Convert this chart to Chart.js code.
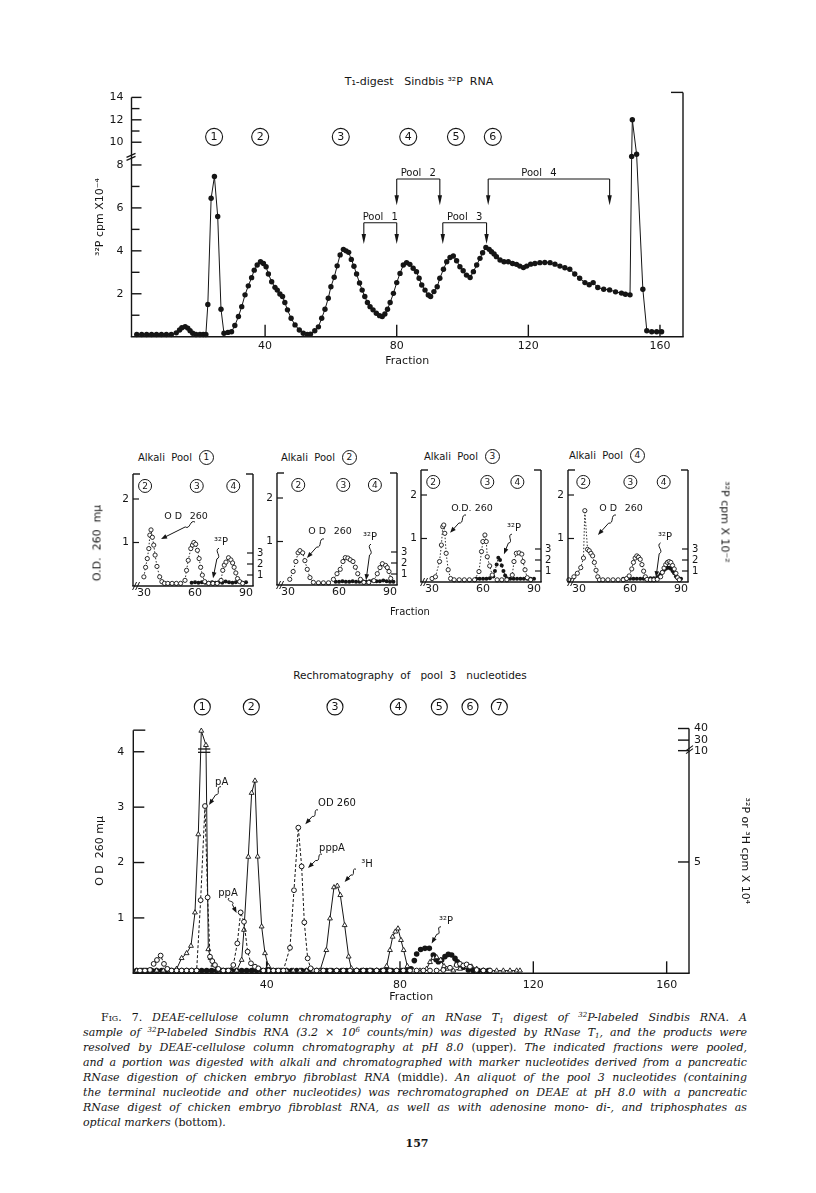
<!DOCTYPE html>
<html><head><meta charset="utf-8">
<script src="https://cdn.jsdelivr.net/npm/chart.js@4.4.0/dist/chart.umd.min.js"></script>
<style>
html,body{margin:0;padding:0;background:#fff;}
body{width:816px;height:1193px;position:relative;overflow:hidden;font-family:"DejaVu Sans",sans-serif;color:#151515;}
canvas{position:absolute;}
.t{position:absolute;white-space:nowrap;font-size:11px;}
.c{transform:translate(-50%,-50%);}
.circ{display:inline-block;width:13px;height:13px;border:1px solid #151515;border-radius:50%;text-align:center;line-height:13px;font-size:9px;margin-left:7px;vertical-align:middle;}
#cap{position:absolute;left:83px;top:1010px;width:664px;font-family:"DejaVu Serif",serif;font-style:italic;font-size:11px;line-height:15px;color:#151515;}
#cap .ln{height:15px;white-space:nowrap;text-align:justify;text-align-last:justify;}
#cap .last{text-align:left;text-align-last:left;}
#cap sup{font-size:7px;vertical-align:4px;line-height:0;}
#cap sub{font-size:7px;vertical-align:-2px;line-height:0;}
#cap .up{font-style:normal;}
</style></head><body>

<div class="t c" style="left:419px;top:81px;">T₁-digest&nbsp;&nbsp; Sindbis ³²P&nbsp; RNA</div>
<canvas id="cTop" width="816" height="312" style="left:0;top:60px;"></canvas>

<div class="t" style="left:138px;top:450px;font-size:10px;">Alkali&nbsp; Pool<span class="circ">1</span></div>
<div class="t" style="left:281px;top:450px;font-size:10px;">Alkali&nbsp; Pool<span class="circ">2</span></div>
<div class="t" style="left:424px;top:449px;font-size:10px;">Alkali&nbsp; Pool<span class="circ">3</span></div>
<div class="t" style="left:569px;top:448px;font-size:10px;">Alkali&nbsp; Pool<span class="circ">4</span></div>
<canvas id="cP1" width="190" height="156"></canvas>
<canvas id="cP2" width="190" height="156"></canvas>
<canvas id="cP3" width="190" height="156"></canvas>
<canvas id="cP4" width="190" height="156"></canvas>
<div class="t" style="left:97px;top:543px;transform:translate(-50%,-50%) rotate(-90deg);">O.D.&nbsp; 260&nbsp; mμ</div>
<div class="t" style="left:725px;top:522px;transform:translate(-50%,-50%) rotate(90deg);">³²P cpm X 10⁻²</div>
<div class="t c" style="left:410px;top:611px;font-size:10px;">Fraction</div>

<div class="t c" style="left:410px;top:675px;font-size:10.5px;">Rechromatography&nbsp; of&nbsp;&nbsp; pool&nbsp; 3&nbsp;&nbsp; nucleotides</div>
<canvas id="cBot" width="816" height="320" style="left:0;top:690px;"></canvas>

<div id="cap">
<div class="ln" style="text-indent:18px;"><span class="up">F<span style="font-variant:small-caps;">ig</span>. 7.</span> DEAE-cellulose column chromatography of an RNase T<sub>1</sub> digest of <sup>32</sup>P-labeled Sindbis RNA. A</div>
<div class="ln">sample of <sup>32</sup>P-labeled Sindbis RNA (3.2 × 10<sup>6</sup> counts/min) was digested by RNase T<sub>1</sub>, and the products were</div>
<div class="ln">resolved by DEAE-cellulose column chromatography at pH 8.0 <span class="up">(upper)</span>. The indicated fractions were pooled,</div>
<div class="ln">and a portion was digested with alkali and chromatographed with marker nucleotides derived from a pancreatic</div>
<div class="ln">RNase digestion of chicken embryo fibroblast RNA <span class="up">(middle)</span>. An aliquot of the pool 3 nucleotides (containing</div>
<div class="ln">the terminal nucleotide and other nucleotides) was rechromatographed on DEAE at pH 8.0 with a pancreatic</div>
<div class="ln">RNase digest of chicken embryo fibroblast RNA, as well as with adenosine mono- di-, and triphosphates as</div>
<div class="ln last">optical markers <span class="up">(bottom)</span>.</div>
</div>
<div class="t c" style="left:417px;top:1143px;font-family:'DejaVu Serif',serif;font-weight:bold;font-size:11px;">157</div>

<script>
// ---------------- DATA ----------------
// Top: T1 digest, 32P cpm x 10^-4 per fraction
const topFraction = [1,2.5,4,5.5,7,8.5,10,11.5,13,14,
 14.7,15.7,16.5,17.2,18,19,20.2,21.2,22,22.6,
 23.6,24.6,25.6,26.6,27.5,28.7,29.8,30.8,31.9,32.9,
 33.9,34.9,35.9,36.7,37.6,38.6,39.5,40.3,41,42,
 43,43.7,44.5,45.3,46,46.8,47.9,49.1,50.4,51.6,
 52.8,53.8,55.1,56.2,57.2,58.2,59.2,60,61,61.9,
 62.8,63.8,64.6,65.4,66.2,67,67.8,68.7,69.5,70.3,
 71.1,71.9,72.8,73.8,74.8,75.6,76.4,77.2,78,79,
 80,81,82,83,84,85,86,86.8,87.6,88.6,
 89.6,90.3,91.3,92.3,93.1,94.2,95.2,96.2,97.2,98.2,
 99.2,100.2,101.2,102.3,103.3,104.3,105.3,106.1,107.1,108.1,
 108.8,109.6,110.3,111.4,112.6,113.9,115.2,116.4,117.4,118.5,
 119.5,120.7,122,123.5,125,126.6,128.1,129.6,131.1,132.6,
 134.1,135.6,137.2,138.5,139.7,141.1,142.9,144.7,146.5,148.3,
 149.5,150.9,151.4,151.6,152.9,154.8,156,157.5,159,160.5];
const topCpm = [0.1,0.1,0.1,0.1,0.1,0.1,0.1,0.1,0.18,0.31,
 0.42,0.47,0.4,0.28,0.16,0.1,0.1,0.1,0.1,1.5,
 6.45,7.46,5.6,1.28,0.16,0.2,0.23,0.52,0.94,1.4,
 1.95,2.37,2.75,3.1,3.34,3.49,3.41,3.26,2.92,2.56,
 2.3,2.17,1.99,1.87,1.59,1.25,0.86,0.55,0.31,0.16,
 0.11,0.12,0.28,0.46,0.86,1.28,1.79,2.33,2.77,3.3,
 3.81,4.07,4.0,3.93,3.6,3.28,2.92,2.5,2.17,1.87,
 1.59,1.4,1.25,1.09,0.98,0.94,1.06,1.28,1.59,2.02,
 2.52,2.95,3.34,3.45,3.37,3.19,3.03,2.72,2.41,2.17,
 1.94,1.87,2.1,2.33,2.72,3.14,3.49,3.69,3.76,3.54,
 3.26,3.07,2.87,2.76,3.03,3.34,3.65,3.91,4.16,4.07,
 3.96,3.85,3.73,3.57,3.49,3.49,3.41,3.37,3.29,3.22,
 3.29,3.38,3.41,3.45,3.46,3.45,3.38,3.29,3.21,3.14,
 2.92,2.72,2.52,2.42,2.52,2.29,2.21,2.18,2.09,2.03,
 1.98,1.95,8.4,12,8.5,2.21,0.28,0.23,0.23,0.23];
const topXTickLabels = [40,80,120,160];
const topYTickLabels = [2,4,6,8,10,12,14];
const topYMinorTicks = [1,3,5,7,11,13];
const topPeakNames = ['1','2','3','4','5','6'];
const topPeakFractions = [24.5,38.5,63,83.5,98,109.2];
const poolNames = ['1','2','3','4'];
const poolStart = [70,80,94,107.8];
const poolEnd = [80,93.1,107.3,144.7];

// Middle: alkali digests of pools (OD 260 and 32P cpm x 10^-2)
const p1OdFraction = [29.9,30.9,31.9,32.8,33.4,34.1,34.9,35.7,36.5,37.6,39.2,40.5,42,44,46.5,49,51.5,54.1,55,56,57.5,58.5,59.3,60.4,61.4,62.4,63.3,64.3,65.7,68,70.5,73,75.3,76.3,77.2,78.2,79.7,81.1,82.1,83,84,85,86.3,88];
const p1Od = [0.21,0.43,0.63,0.86,1.17,1.29,1.12,0.94,0.71,0.45,0.21,0.1,0.06,0.06,0.06,0.06,0.06,0.13,0.36,0.59,0.86,0.94,1.0,0.96,0.82,0.63,0.43,0.25,0.1,0.06,0.06,0.06,0.13,0.36,0.48,0.55,0.65,0.6,0.53,0.43,0.3,0.17,0.1,0.06];
const p1PFraction = [58,60,62,64,66,68,70,72,74,76,78,80,82,84,86,88,90];
const p1P = [0.3,0.35,0.3,0.35,0.3,0.3,0.35,0.3,0.35,0.3,0.4,0.35,0.3,0.35,0.4,0.3,0.35];

const p2OdFraction = [31,33,34.6,35.9,37,38.6,39.9,41.3,42.9,44.9,47.9,50.8,53.8,56.7,58.8,60.7,62.3,63.7,65.2,66.6,68.2,69.6,71,72.6,74.6,77.5,80.5,82.5,84.1,85.5,87.4,88.4,89.4,90.4];
const p2Od = [0.13,0.31,0.54,0.74,0.79,0.74,0.56,0.36,0.17,0.06,0.05,0.05,0.05,0.13,0.26,0.36,0.54,0.63,0.62,0.58,0.54,0.41,0.26,0.13,0.06,0.06,0.1,0.26,0.4,0.49,0.45,0.4,0.31,0.15];
const p2PFraction = [58,60,62,64,66,68,70,72,74,76,78,80,82,84,86,88,90,92];
const p2P = [0.3,0.3,0.35,0.3,0.3,0.35,0.3,0.3,0.35,0.3,0.35,0.4,0.35,0.35,0.4,0.35,0.3,0.3];

const p3OdFraction = [30,32,34.4,35.5,36.3,36.9,37.5,38.3,39.5,40.9,43,46,49,52,55,57.6,59.1,59.9,61.1,61.9,62.5,63.9,65.4,68.3,71,74,77.2,78.2,79.6,81.2,82.8,83.5,84.7,86,88];
const p3Od = [0.08,0.12,0.47,0.85,1.27,1.31,1.12,0.66,0.28,0.08,0.05,0.05,0.05,0.05,0.05,0.24,0.7,0.93,1.08,0.93,0.58,0.37,0.16,0.05,0.05,0.05,0.16,0.47,0.66,0.67,0.64,0.47,0.28,0.1,0.05];
const p3PFraction = [56,58,60,62,64,66,67,68,69,70,71,72,73,74,76,78,80,82,84,86,88,90];
const p3P = [0.3,0.3,0.3,0.3,0.35,0.5,1.0,1.6,2.2,2.0,1.5,1.0,0.6,0.35,0.3,0.3,0.3,0.3,0.3,0.3,0.3,0.3];

const p4OdFraction = [24,27,29,31,32.6,33.4,35,36,37,38,39,40,41,42,44,47,50,53,56,58,59.5,61,62,63,64,65,66,67,68,69,70,72,74,76,78,79,80,81,82,83,84,85,86,87,88,89];
const p4Od = [0.05,0.12,0.2,0.33,0.55,1.64,0.75,0.72,0.66,0.6,0.45,0.27,0.12,0.05,0.05,0.05,0.05,0.05,0.05,0.08,0.14,0.3,0.45,0.55,0.6,0.57,0.52,0.4,0.25,0.12,0.06,0.05,0.05,0.06,0.12,0.22,0.32,0.4,0.45,0.47,0.45,0.38,0.3,0.2,0.1,0.05];
const p4PFraction = [56,58,60,62,64,66,68,70,72,74,76,77,78,79,80,81,82,83,84,85,86,87,88,90];
const p4P = [0.3,0.3,0.3,0.3,0.3,0.3,0.3,0.3,0.35,0.35,0.4,0.5,0.7,0.9,1.1,1.2,1.3,1.3,1.2,1.0,0.8,0.5,0.35,0.3];

const panelXTickLabels = [30,60,90];
const panelOdTickLabels = [1,2];
const panelPTickLabels = [1,2,3];
const panelPeakNames = ['2','3','4'];
const panelPeakFractions = [[30.6,61,82.5],[36,62.5,81.1],[30.7,62.5,80.2],[32.5,60.2,79.8]];

// Bottom: rechromatography of pool 3 (OD 260, 3H and 32P cpm x 10^4)
const botOdFraction = [2,3.5,5,6.1,7.1,8.2,9.2,10.2,11.5,13,
 14.5,16,17.5,19,20.2,21.5,22.3,23,23.7,24.5,
 25.5,27,28.5,30,31.2,32.2,33.2,34.3,35.3,36.5,
 37.5,39,40.5,42,43.5,45,47,48.2,49.5,50.5,
 51.3,52.3,53.2,55,57,59,61,63,65,67,
 69,71,73,75,77,79,81,83,85,87,
 89,91,93,95,97,98,99,100,101,103,
 105,107];
const botOd = [0.05,0.05,0.06,0.17,0.24,0.32,0.17,0.08,0.05,0.05,
 0.05,0.05,0.05,0.05,1.32,3.02,1.37,0.3,0.22,0.15,
 0.08,0.05,0.05,0.15,0.54,1.1,0.93,0.39,0.18,0.12,
 0.09,0.05,0.05,0.05,0.05,0.05,0.46,1.5,2.63,1.93,
 0.92,0.27,0.09,0.05,0.05,0.05,0.05,0.05,0.05,0.05,
 0.05,0.05,0.05,0.05,0.05,0.05,0.05,0.05,0.05,0.05,
 0.05,0.05,0.06,0.1,0.15,0.17,0.14,0.16,0.12,0.06,
 0.05,0.05];
const botHFraction = [1,3,5,7,9,11,13,14.5,16,17.3,
 18.5,19.5,20.4,21.8,22.5,23.2,24,25.5,27,29,
 31,32.5,33.2,34.5,35.5,36.5,37.3,38.5,39.5,40.5,
 42,44,46,48,50,52,54,56,57.9,59,
 60.2,61.2,62.1,63.4,64.6,65.4,67,69,71,73,
 75,76,77,77.8,78.6,79.4,80.3,81.1,82.2,84,
 86,88,89,90,91,92.2,93.2,94,96,98,
 100,101.5,103,105,107,109,111,113,115,116];
const botH = [0.12,0.12,0.12,0.12,0.12,0.12,0.2,0.68,0.9,1.23,
 2.73,6.24,38,20.5,1.08,0.68,0.38,0.15,0.12,0.12,
 0.12,0.6,1.95,5.23,8.1,8.65,5.24,2.1,0.9,0.32,
 0.12,0.12,0.12,0.12,0.12,0.12,0.12,0.12,1.04,2.46,
 3.86,3.93,3.51,2.16,0.75,0.22,0.12,0.12,0.12,0.12,
 0.12,0.32,1.04,1.64,1.87,2.01,1.49,1.04,0.32,0.12,
 0.12,0.2,0.5,0.69,0.72,0.6,0.32,0.2,0.12,0.2,
 0.3,0.3,0.2,0.12,0.12,0.12,0.12,0.12,0.12,0.12];
const botPFraction = [1,2.5,4,5.5,7,8.5,10,11.5,13,14.5,
 16,17.5,19,20.5,22,23.5,25,26.5,28,29.5,
 31,32.5,34,35.5,37,38.5,40,41.5,43,44.5,
 46,47.5,49,50.5,52,53.5,55,56.5,58,59.5,
 61,62.5,64,65.5,67,68.5,70,71.5,73,74.5,
 76,77.5,79,80.5,82,83.3,84.3,85,86.2,87.5,
 88.8,90,90.8,91.5,92.5,93.5,94.5,95.5,96.5,97.2,
 98,99,100.5,102,103.5,105,106.5];
const botP = [0.12,0.12,0.12,0.12,0.12,0.12,0.12,0.12,0.12,0.12,
 0.12,0.12,0.12,0.12,0.12,0.12,0.12,0.12,0.12,0.12,
 0.12,0.12,0.12,0.12,0.12,0.12,0.12,0.12,0.12,0.12,
 0.12,0.12,0.12,0.12,0.12,0.12,0.12,0.12,0.12,0.12,
 0.12,0.12,0.12,0.12,0.12,0.12,0.12,0.12,0.12,0.12,
 0.12,0.12,0.12,0.12,0.12,0.2,0.57,0.87,1.07,1.12,
 1.12,0.82,0.62,0.52,0.6,0.75,0.85,0.82,0.67,0.52,
 0.37,0.27,0.15,0.12,0.12,0.12,0.12];
const botXTickLabels = [40,80,120,160];
const botOdTickLabels = [1,2,3,4];
const botCpmTickLabels = [5,10,30,40];
const botPeakNames = ['1','2','3','4','5','6','7'];
const botPeakFractions = [20.7,35.4,60.5,79.5,91.8,101,109.8];

// ---------------- RENDER ----------------
const INK = '#151515';
const FF = "'DejaVu Sans', sans-serif";
Chart.defaults.font.family = FF;
Chart.defaults.color = INK;

// broken-axis transforms
function tTop(v){ return v <= 8.6 ? v : 9.06 + (v - 10) * 0.522; }
function tBot(r){ if (r <= 10) return r * 0.402; if (r <= 30) return 4.02 + (r - 10) * 0.0095; return 4.21 + (r - 30) * 0.021; }

function ln(ctx,x0,y0,x1,y1){ctx.beginPath();ctx.moveTo(x0,y0);ctx.lineTo(x1,y1);ctx.stroke();}
function arrowHead(ctx,x,y,ang,len,hw){
  const c=Math.cos(ang), s=Math.sin(ang);
  ctx.beginPath(); ctx.moveTo(x,y);
  ctx.lineTo(x-len*c+hw*s, y-len*s-hw*c);
  ctx.lineTo(x-len*c-hw*s, y-len*s+hw*c);
  ctx.closePath(); ctx.fill();
}
function squiggleArrow(ctx,x0,y0,x1,y1){
  const dx=x1-x0, dy=y1-y0, L=Math.hypot(dx,dy), ux=dx/L, uy=dy/L, nx=-uy, ny=ux;
  const s=Math.min(11, L*0.45);
  const mx=x0+ux*s, my=y0+uy*s;
  ctx.beginPath(); ctx.moveTo(x0,y0);
  ctx.bezierCurveTo(x0+ux*s*0.3+nx*5, y0+uy*s*0.3+ny*5, x0+ux*s*0.7-nx*5, y0+uy*s*0.7-ny*5, mx, my);
  ctx.lineTo(x1-ux*3,y1-uy*3); ctx.stroke();
  arrowHead(ctx,x1,y1,Math.atan2(dy,dx),6,2.3);
}
function circled(ctx,x,y,r,txt,size){
  ctx.beginPath(); ctx.arc(x,y,r,0,Math.PI*2); ctx.stroke();
  ctx.font = size+'px '+FF; ctx.textAlign='center'; ctx.textBaseline='middle';
  ctx.fillText(txt,x,y+0.5);
}
function baseScale(extra){
  return Object.assign({type:'linear',bounds:'data',grid:{display:false,drawTicks:false},border:{display:false},
    ticks:{autoSkip:false,maxRotation:0,minRotation:0,color:INK,font:{size:11}}}, extra);
}
const common = {responsive:false,animation:false,devicePixelRatio:1,events:[],
  plugins:{legend:{display:false},tooltip:{enabled:false}}};

// ---- Top chart ----
const topFrame = {id:'topFrame', afterDraw(chart){
  const {ctx, chartArea:a, scales:{x,y}} = chart;
  ctx.save(); ctx.strokeStyle=INK; ctx.fillStyle=INK; ctx.lineWidth=1.4;
  const yTop = y.getPixelForValue(tTop(14));
  ln(ctx,a.left,yTop,a.left,a.bottom);
  ln(ctx,a.left-0.7,a.bottom,a.right+0.7,a.bottom);
  ln(ctx,a.right,yTop-5,a.right,a.bottom);
  ln(ctx,a.right-12,yTop-5,a.right,yTop-5);
  topYTickLabels.forEach(v=>{const p=y.getPixelForValue(tTop(v)); ln(ctx,a.left,p,a.left+10,p);});
  topYMinorTicks.forEach(v=>{const p=y.getPixelForValue(tTop(v)); ln(ctx,a.left,p,a.left+8,p);});
  topXTickLabels.forEach(v=>{const p=x.getPixelForValue(v); ln(ctx,p,a.bottom,p,a.bottom-12);});
  // axis break
  const pb = y.getPixelForValue(8.4);
  ctx.lineWidth=1.2;
  ln(ctx,a.left-5,pb+1,a.left+4,pb-3); ln(ctx,a.left-5,pb+4,a.left+4,pb);
  // peak numbers
  ctx.lineWidth=1.1;
  topPeakFractions.forEach((f,i)=>circled(ctx,x.getPixelForValue(f),y.getPixelForValue(9.31),8.5,topPeakNames[i],11));
  // pools
  ctx.lineWidth=1.1;
  poolNames.forEach((nm,i)=>{
    const lvl = (i%2===0) ? {line:5.31, tip:4.32} : {line:7.35, tip:6.12};
    const x0=x.getPixelForValue(poolStart[i]), x1=x.getPixelForValue(poolEnd[i]);
    const yl=y.getPixelForValue(lvl.line), yt=y.getPixelForValue(lvl.tip);
    ln(ctx,x0,yl,x1,yl); ln(ctx,x0,yl,x0,yt-6); ln(ctx,x1,yl,x1,yt-6);
    arrowHead(ctx,x0,yt,Math.PI/2,10,2.2); arrowHead(ctx,x1,yt,Math.PI/2,10,2.2);
    ctx.font='10px '+FF; ctx.textAlign='center'; ctx.textBaseline='alphabetic';
    ctx.fillText('Pool\u2002 '+nm,(x0+x1)/2 - (i===3?10:0),yl-2.5);
  });
  ctx.restore();
}};
new Chart(document.getElementById('cTop'), {
  type:'line',
  data:{datasets:[{data: topFraction.map((f,i)=>({x:f,y:tTop(topCpm[i])})),
    borderColor:INK,borderWidth:1,tension:0,clip:false,
    pointRadius:2.7,pointHoverRadius:2.7,pointBackgroundColor:INK,pointBorderWidth:0}]},
  options:Object.assign({}, common, {
    layout:{padding:{left:88,right:133,top:37.4,bottom:0}},
    scales:{
      x: baseScale({min:-0.6,max:167,
        afterBuildTicks:s=>{s.ticks=topXTickLabels.map(v=>({value:v}));},
        afterFit:s=>{s.height=35.3;},
        title:{display:true,text:'Fraction',color:INK,font:{size:11},padding:{top:0,bottom:4.4}}}),
      y: baseScale({min:0,max:tTop(14),
        ticks:{autoSkip:false,color:INK,font:{size:11},padding:8,callback:(v,i)=>String(topYTickLabels[i])},
        afterBuildTicks:s=>{s.ticks=topYTickLabels.map(v=>({value:tTop(v)}));},
        afterFit:s=>{s.width=43.5;},
        title:{display:true,text:'³²P cpm X10⁻⁴',color:INK,font:{size:11},padding:{top:5.4,bottom:0}}})
    }
  }),
  plugins:[topFrame]
});

// ---- Middle panels ----
const panels = [
  {id:'cP1',L:133,B:586,odF:p1OdFraction,od:p1Od,pF:p1PFraction,p:p1P,odLbl:'O D  260',
   odText:[54.7,1.59],odArrow:[60,1.47,40,1.08],pText:[75.3,1.01],pArrow:[74.1,0.87,70.6,0.18]},
  {id:'cP2',L:277,B:585,odF:p2OdFraction,od:p2Od,pF:p2PFraction,p:p2P,odLbl:'O D  260',
   odText:[54.7,1.22],odArrow:[51.1,1.06,41.1,0.62],pText:[78.2,1.1],pArrow:[78.8,0.94,75.9,0.11]},
  {id:'cP3',L:421,B:582,odF:p3OdFraction,od:p3Od,pF:p3PFraction,p:p3P,odLbl:'O.D. 260',
   odText:[53.5,1.68],odArrow:[50,1.54,40.6,1.13],pText:[78.2,1.24],pArrow:[77,1.1,72.3,0.64]},
  {id:'cP4',L:568,B:582,odF:p4OdFraction,od:p4Od,pF:p4PFraction,p:p4P,odLbl:'O D  260',
   odText:[54.7,1.68],odArrow:[51.7,1.54,41.1,1.08],pText:[80.6,1.03],pArrow:[78,0.9,75.3,0.11]}
];
const PH = 112;
panels.forEach((P,k)=>{
  const cv=document.getElementById(P.id);
  cv.style.left=(P.L-35)+'px'; cv.style.top=(P.B-PH-20)+'px';
  const frame={id:'pf'+k, afterDraw(chart){
    const {ctx, chartArea:a, scales:{x,y,y2}} = chart;
    ctx.save(); ctx.strokeStyle=INK; ctx.fillStyle=INK; ctx.lineWidth=1.4;
    ln(ctx,a.left,a.top,a.left,a.bottom); ln(ctx,a.left,a.top,a.left+7,a.top);
    ln(ctx,a.right,a.top,a.right,a.bottom); ln(ctx,a.right-7,a.top,a.right,a.top);
    ln(ctx,a.left-0.7,a.bottom,a.right+0.7,a.bottom);
    ctx.lineWidth=1.2;
    panelOdTickLabels.forEach(v=>{const p=y.getPixelForValue(v); ln(ctx,a.left,p,a.left+6,p);});
    panelPTickLabels.forEach(v=>{const p=y2.getPixelForValue(v); ln(ctx,a.right,p,a.right-6,p);});
    const xb=x.getPixelForValue(25.6);
    ctx.lineWidth=1;
    ln(ctx,xb-4,a.bottom+4,xb,a.bottom-4); ln(ctx,xb-1,a.bottom+4,xb+3,a.bottom-4);
    panelPeakFractions[k].forEach((f,i)=>circled(ctx,x.getPixelForValue(f),y.getPixelForValue(2.3),6.5,panelPeakNames[i],9));
    ctx.font='9.5px '+FF; ctx.textAlign='center'; ctx.textBaseline='middle';
    ctx.fillText(P.odLbl.replace('  ','\u2002 '),x.getPixelForValue(P.odText[0]),y.getPixelForValue(P.odText[1]));
    ctx.font='10px '+FF;
    ctx.fillText('³²P',x.getPixelForValue(P.pText[0]),y.getPixelForValue(P.pText[1]));
    ctx.lineWidth=1;
    squiggleArrow(ctx,x.getPixelForValue(P.odArrow[0]),y.getPixelForValue(P.odArrow[1]),x.getPixelForValue(P.odArrow[2]),y.getPixelForValue(P.odArrow[3]));
    squiggleArrow(ctx,x.getPixelForValue(P.pArrow[0]),y.getPixelForValue(P.pArrow[1]),x.getPixelForValue(P.pArrow[2]),y.getPixelForValue(P.pArrow[3]));
    ctx.restore();
  }};
  new Chart(cv,{
    type:'line',
    data:{datasets:[
      {data:P.odF.map((f,i)=>({x:f,y:P.od[i]})),yAxisID:'y',borderColor:INK,borderWidth:0.9,borderDash:[1.5,1.8],tension:0,clip:false,
       pointRadius:2.1,pointHoverRadius:2.1,pointBackgroundColor:'#fff',pointBorderColor:INK,pointBorderWidth:0.9},
      {data:P.pF.map((f,i)=>({x:f,y:P.p[i]})),yAxisID:'y2',borderColor:INK,borderWidth:0.9,borderDash:[1.5,1.8],tension:0,clip:false,
       pointRadius:2,pointHoverRadius:2,pointBackgroundColor:INK,pointBorderWidth:0}
    ]},
    options:Object.assign({},common,{
      layout:{padding:{left:0,right:0,top:20,bottom:0}},
      scales:{
        x: baseScale({min:23.5,max:94.1,ticks:{autoSkip:false,maxRotation:0,color:INK,font:{size:11},padding:1},
          afterBuildTicks:s=>{s.ticks=panelXTickLabels.map(v=>({value:v}));}, afterFit:s=>{s.height=24;}}),
        y: baseScale({min:0,max:PH/43.5,position:'left',ticks:{autoSkip:false,color:INK,font:{size:10.5},padding:4},
          afterBuildTicks:s=>{s.ticks=panelOdTickLabels.map(v=>({value:v}));}, afterFit:s=>{s.width=35;}}),
        y2: baseScale({min:0,max:PH/11,position:'right',ticks:{autoSkip:false,color:INK,font:{size:10},padding:4},
          afterBuildTicks:s=>{s.ticks=panelPTickLabels.map(v=>({value:v}));}, afterFit:s=>{s.width=35;}})
      }
    }),
    plugins:[frame]
  });
});

// ---- Bottom chart ----
const botAnn = [
  {txt:'pA', at:[26.5,3.45], arr:[26.3,3.37,22.7,3.04]},
  {txt:'ppA', at:[28.4,1.45], arr:[28.7,1.36,31,1.09]},
  {txt:'OD 260', at:[61.1,3.06], arr:[55.4,2.95,51.6,2.69]},
  {txt:'pppA', at:[59.6,2.26], arr:[56.6,2.15,52.4,1.9]},
  {txt:'³H', at:[70.1,1.97], arr:[66.8,1.88,63.4,1.65]},
  {txt:'³²P', at:[93.8,0.93], arr:[92.3,0.84,89.5,0.54]}
];
const botFrame = {id:'botFrame', afterDraw(chart){
  const {ctx, chartArea:a, scales:{x,y,y2}} = chart;
  ctx.save(); ctx.strokeStyle=INK; ctx.fillStyle=INK; ctx.lineWidth=1.4;
  const yl = y.getPixelForValue(4.39), yr = y2.getPixelForValue(tBot(40));
  ln(ctx,a.left,yl,a.left,a.bottom); ln(ctx,a.left,yl,a.left+12,yl);
  ln(ctx,a.left-0.7,a.bottom,a.right+0.7,a.bottom);
  ln(ctx,a.right,yr,a.right,a.bottom);
  botOdTickLabels.forEach(v=>{const p=y.getPixelForValue(v); ln(ctx,a.left,p,a.left+11,p);});
  botCpmTickLabels.forEach(v=>{const p=y2.getPixelForValue(tBot(v)); ln(ctx,a.right,p,a.right-11,p);});
  botXTickLabels.forEach(v=>{const p=x.getPixelForValue(v); ln(ctx,p,a.bottom,p,a.bottom-12);});
  const pb=y2.getPixelForValue(tBot(10))-2;
  ctx.lineWidth=1.1;
  ln(ctx,a.right-3,pb+2,a.right+4,pb-3); ln(ctx,a.right-3,pb+5,a.right+4,pb);
  ctx.lineWidth=1.3;
  [3.99,4.05].forEach(v=>{const p=y.getPixelForValue(v); ln(ctx,x.getPixelForValue(19.4),p,x.getPixelForValue(23.1),p);});
  ctx.lineWidth=1.1;
  botPeakFractions.forEach((f,i)=>circled(ctx,x.getPixelForValue(f),y.getPixelForValue(4.81),8,botPeakNames[i],11));
  ctx.lineWidth=1;
  botAnn.forEach(A=>{
    ctx.font='10px '+FF; ctx.textAlign='center'; ctx.textBaseline='middle';
    ctx.fillText(A.txt,x.getPixelForValue(A.at[0]),y.getPixelForValue(A.at[1]));
    squiggleArrow(ctx,x.getPixelForValue(A.arr[0]),y.getPixelForValue(A.arr[1]),x.getPixelForValue(A.arr[2]),y.getPixelForValue(A.arr[3]));
  });
  ctx.restore();
}};
new Chart(document.getElementById('cBot'),{
  type:'line',
  data:{datasets:[
    {data:botOdFraction.map((f,i)=>({x:f,y:botOd[i]})),yAxisID:'y',borderColor:INK,borderWidth:1,borderDash:[3,2],tension:0,clip:false,
     pointRadius:2.4,pointHoverRadius:2.4,pointBackgroundColor:'#fff',pointBorderColor:INK,pointBorderWidth:1},
    {data:botHFraction.map((f,i)=>({x:f,y:tBot(botH[i])})),yAxisID:'y',borderColor:INK,borderWidth:1,tension:0,clip:false,
     pointStyle:'triangle',pointRadius:2.8,pointHoverRadius:2.8,pointBackgroundColor:'#fff',pointBorderColor:INK,pointBorderWidth:0.9},
    {data:botPFraction.map((f,i)=>({x:f,y:tBot(botP[i])})),yAxisID:'y',showLine:false,clip:false,
     pointRadius:2.8,pointHoverRadius:2.8,pointBackgroundColor:INK,pointBorderWidth:0}
  ]},
  options:Object.assign({},common,{
    layout:{padding:{left:88,right:61,top:38.5,bottom:0}},
    scales:{
      x: baseScale({min:0,max:166.7,ticks:{autoSkip:false,maxRotation:0,color:INK,font:{size:11},padding:5},
        afterBuildTicks:s=>{s.ticks=botXTickLabels.map(v=>({value:v}));}, afterFit:s=>{s.height=36.7;},
        title:{display:true,text:'Fraction',color:INK,font:{size:11},padding:{top:0,bottom:6.4}}}),
      y: baseScale({min:0,max:4.42,position:'left',ticks:{autoSkip:false,color:INK,font:{size:11},padding:9},
        afterBuildTicks:s=>{s.ticks=botOdTickLabels.map(v=>({value:v}));}, afterFit:s=>{s.width=45.3;},
        title:{display:true,text:'O D  260 mμ',color:INK,font:{size:11},padding:{top:5.4,bottom:0}}}),
      y2: baseScale({min:0,max:4.42,position:'right',ticks:{autoSkip:false,color:INK,font:{size:11},padding:5,
          callback:(v,i)=>String(botCpmTickLabels[i])},
        afterBuildTicks:s=>{s.ticks=botCpmTickLabels.map(v=>({value:tBot(v)}));}, afterFit:s=>{s.width=66;},
        title:{display:true,text:'³²P or ³H cpm X 10⁴',color:INK,font:{size:11},padding:{top:3.4,bottom:0}}})
    }
  }),
  plugins:[botFrame]
});
</script>
</body></html>
